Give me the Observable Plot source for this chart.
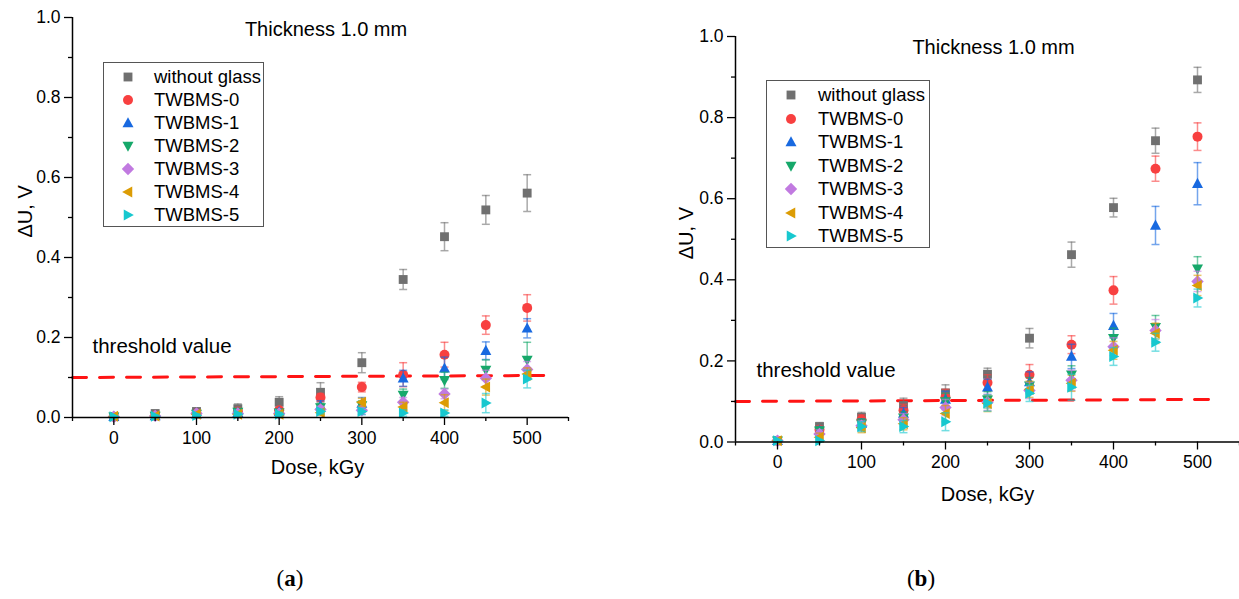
<!DOCTYPE html>
<html>
<head>
<meta charset="utf-8">
<script src="https://cdn.jsdelivr.net/npm/d3@7"></script>
<script src="https://cdn.jsdelivr.net/npm/@observablehq/plot@0.6"></script>
<style>
html,body{margin:0;padding:0;background:#fff;}
#root{position:relative;width:1239px;height:599px;overflow:hidden;font-family:"Liberation Sans",Arial,sans-serif;color:#000;}
.panel{position:absolute;top:0;}
.panel svg{overflow:visible;}
.legend{position:absolute;border:1px solid #555;background:#fff;box-sizing:border-box;}
.legend .row{position:absolute;left:0;height:24px;width:100%;font-size:18.5px;white-space:nowrap;}
.legend .row svg{position:absolute;top:5px;}
.legend .row span{position:absolute;top:1px;line-height:22px;}
.caption{position:absolute;top:566px;font-family:"Liberation Serif","DejaVu Serif",serif;font-size:23px;transform:translateX(-50%);}
.caption b{font-weight:bold;}
</style>
</head>
<body>
<div id="root"></div>
<script>
// ---------- data ----------
const doses = [0, 50, 100, 150, 200, 250, 300, 350, 400, 450, 500];
const seriesNames = ["without glass", "TWBMS-0", "TWBMS-1", "TWBMS-2", "TWBMS-3", "TWBMS-4", "TWBMS-5"];
const seriesColors = ["#707070", "#f84040", "#1869e0", "#16a86a", "#c17ae0", "#dc9c04", "#17c8cf"];

// panel (a)
const aWithoutGlass = [0.002, 0.010, 0.015, 0.022, 0.038, 0.063, 0.137, 0.345, 0.452, 0.519, 0.561];
const aTWBMS0 = [0.002, 0.005, 0.010, 0.015, 0.018, 0.050, 0.076, 0.107, 0.157, 0.231, 0.274];
const aTWBMS1 = [0.002, 0.004, 0.008, 0.012, 0.014, 0.030, 0.035, 0.098, 0.123, 0.167, 0.223];
const aTWBMS2 = [0.002, 0.004, 0.009, 0.014, 0.012, 0.025, 0.030, 0.056, 0.093, 0.119, 0.144];
const aTWBMS3 = [0.002, 0.004, 0.010, 0.010, 0.010, 0.020, 0.018, 0.038, 0.059, 0.098, 0.120];
const aTWBMS4 = [0.003, 0.004, 0.008, 0.008, 0.008, 0.012, 0.038, 0.026, 0.037, 0.076, 0.109];
const aTWBMS5 = [0.002, 0.003, 0.005, 0.008, 0.008, 0.015, 0.015, 0.011, 0.011, 0.036, 0.096];
const aErrWithoutGlass = [0.002, 0.004, 0.008, 0.012, 0.014, 0.024, 0.025, 0.025, 0.035, 0.036, 0.046];
const aErrTWBMS0 = [0.002, 0.003, 0.004, 0.005, 0.006, 0.010, 0.012, 0.030, 0.031, 0.023, 0.033];
const aErrTWBMS1 = [0.002, 0.003, 0.004, 0.005, 0.006, 0.012, 0.015, 0.020, 0.028, 0.022, 0.024];
const aErrTWBMS2 = [0.002, 0.003, 0.004, 0.005, 0.006, 0.010, 0.012, 0.015, 0.020, 0.025, 0.044];
const aErrTWBMS3 = [0.002, 0.003, 0.004, 0.004, 0.005, 0.008, 0.010, 0.012, 0.012, 0.020, 0.020];
const aErrTWBMS4 = [0.002, 0.003, 0.004, 0.004, 0.005, 0.006, 0.010, 0.012, 0.020, 0.020, 0.015];
const aErrTWBMS5 = [0.002, 0.003, 0.004, 0.004, 0.005, 0.006, 0.008, 0.008, 0.008, 0.024, 0.022];

// panel (b)
const bWithoutGlass = [0.003, 0.038, 0.061, 0.090, 0.121, 0.167, 0.256, 0.462, 0.578, 0.743, 0.893];
const bTWBMS0 = [0.003, 0.030, 0.055, 0.078, 0.110, 0.146, 0.166, 0.240, 0.374, 0.674, 0.753];
const bTWBMS1 = [0.003, 0.028, 0.045, 0.070, 0.105, 0.135, 0.148, 0.211, 0.287, 0.534, 0.637];
const bTWBMS2 = [0.003, 0.028, 0.045, 0.060, 0.100, 0.104, 0.139, 0.166, 0.256, 0.283, 0.427];
const bTWBMS3 = [0.003, 0.020, 0.040, 0.055, 0.085, 0.098, 0.127, 0.152, 0.235, 0.275, 0.396];
const bTWBMS4 = [0.003, 0.012, 0.035, 0.045, 0.070, 0.095, 0.130, 0.145, 0.226, 0.268, 0.386];
const bTWBMS5 = [0.003, 0.003, 0.038, 0.038, 0.050, 0.096, 0.120, 0.135, 0.211, 0.246, 0.355];
const bErrWithoutGlass = [0.003, 0.010, 0.012, 0.018, 0.020, 0.015, 0.024, 0.031, 0.023, 0.031, 0.031];
const bErrTWBMS0 = [0.003, 0.010, 0.012, 0.015, 0.020, 0.020, 0.025, 0.022, 0.034, 0.031, 0.034];
const bErrTWBMS1 = [0.003, 0.010, 0.012, 0.015, 0.020, 0.020, 0.025, 0.030, 0.030, 0.047, 0.052];
const bErrTWBMS2 = [0.003, 0.010, 0.012, 0.015, 0.020, 0.020, 0.020, 0.022, 0.025, 0.029, 0.030];
const bErrTWBMS3 = [0.003, 0.010, 0.012, 0.015, 0.020, 0.020, 0.020, 0.025, 0.022, 0.027, 0.025];
const bErrTWBMS4 = [0.003, 0.010, 0.012, 0.015, 0.020, 0.020, 0.020, 0.020, 0.022, 0.025, 0.025];
const bErrTWBMS5 = [0.003, 0.003, 0.012, 0.015, 0.022, 0.020, 0.020, 0.032, 0.022, 0.022, 0.022];

// threshold line and ticks
const thresholdDose = [-50, 520];
const thresholdValue = [0.100, 0.105];
const xMajorTicks = [0, 100, 200, 300, 400, 500];
const xMinorTicks = [-50, 50, 150, 250, 350, 450, 550];
const yMajorTicks = [0, 0.2, 0.4, 0.6, 0.8, 1.0];
const yMinorTicks = [0.1, 0.3, 0.5, 0.7, 0.9];
const titleText = "Thickness 1.0 mm";
const thresholdText = "threshold value";
const xLabel = "Dose, kGy";
const yLabel = "\u0394U, V";

// ---------- symbols ----------
const poly = (pts) => ({
  draw(ctx, size) {
    const s = Math.sqrt(size);
    ctx.moveTo(pts[0][0] * s, pts[0][1] * s);
    for (let i = 1; i < pts.length; i++) ctx.lineTo(pts[i][0] * s, pts[i][1] * s);
    ctx.closePath();
  }
});
const SQUARE = poly([[-0.5, -0.5], [0.5, -0.5], [0.5, 0.5], [-0.5, 0.5]]);
const TRI_UP = poly([[0, -0.66], [0.62, 0.48], [-0.62, 0.48]]);
const TRI_DOWN = poly([[0, 0.66], [0.62, -0.48], [-0.62, -0.48]]);
const TRI_LEFT = poly([[-0.66, 0], [0.48, -0.62], [0.48, 0.62]]);
const TRI_RIGHT = poly([[0.66, 0], [-0.48, -0.62], [-0.48, 0.62]]);
const DIAMOND = poly([[0, -0.7], [0.7, 0], [0, 0.7], [-0.7, 0]]);
const CAP = { draw(ctx, size) { const s = Math.sqrt(size); ctx.moveTo(-s / 2, 0); ctx.lineTo(s / 2, 0); } };
const seriesSymbols = [SQUARE, d3.symbolCircle, TRI_UP, TRI_DOWN, DIAMOND, TRI_LEFT, TRI_RIGHT];

const panelA = {
  values: [aWithoutGlass, aTWBMS0, aTWBMS1, aTWBMS2, aTWBMS3, aTWBMS4, aTWBMS5],
  errors: [aErrWithoutGlass, aErrTWBMS0, aErrTWBMS1, aErrTWBMS2, aErrTWBMS3, aErrTWBMS4, aErrTWBMS5]
};
const panelB = {
  values: [bWithoutGlass, bTWBMS0, bTWBMS1, bTWBMS2, bTWBMS3, bTWBMS4, bTWBMS5],
  errors: [bErrWithoutGlass, bErrTWBMS0, bErrTWBMS1, bErrTWBMS2, bErrTWBMS3, bErrTWBMS4, bErrTWBMS5]
};

function makePanel(panel, layout) {
  const marks = [];
  const thr = thresholdDose.map((d, i) => ({ dose: d, v: thresholdValue[i] }));
  marks.push(Plot.line(thr, { x: "dose", y: "v", stroke: "#ff1414", strokeWidth: 3, strokeDasharray: "14,13" }));
  panel.values.forEach((vals, i) => {
    const rows = doses.map((d, j) => ({ dose: d, v: vals[j], e: panel.errors[i][j] }));
    const c = seriesColors[i];
    marks.push(Plot.ruleX(rows, { x: "dose", y1: (d) => d.v - d.e, y2: (d) => d.v + d.e, stroke: c, strokeOpacity: 0.6, strokeWidth: 1.5 }));
    marks.push(Plot.dot(rows, { x: "dose", y: (d) => d.v + d.e, symbol: CAP, r: 4.5, fill: "none", stroke: c, strokeOpacity: 0.6, strokeWidth: 1.5 }));
    marks.push(Plot.dot(rows, { x: "dose", y: (d) => d.v - d.e, symbol: CAP, r: 4.5, fill: "none", stroke: c, strokeOpacity: 0.6, strokeWidth: 1.5 }));
    marks.push(Plot.dot(rows, { x: "dose", y: "v", symbol: seriesSymbols[i], r: 5, fill: c, stroke: "none" }));
  });
  marks.push(Plot.ruleY([0], { stroke: "#000", strokeWidth: 1.5 }));
  marks.push(Plot.ruleX([-50], { stroke: "#000", strokeWidth: 1.5 }));
  marks.push(Plot.axisX({ ticks: xMajorTicks, tickSize: 8, tickPadding: 6, tickFormat: (d) => String(d), label: null, strokeWidth: 1.3, fontSize: 17.5 }));
  marks.push(Plot.axisX({ ticks: xMinorTicks, tickSize: 4, tickFormat: () => "", label: null, strokeWidth: 1.3 }));
  marks.push(Plot.axisY({ ticks: yMajorTicks, tickSize: 8, tickPadding: 4, tickFormat: d3.format(".1f"), label: null, strokeWidth: 1.3, fontSize: 17.5 }));
  marks.push(Plot.axisY({ ticks: yMinorTicks, tickSize: 4, tickFormat: () => "", label: null, strokeWidth: 1.3 }));
  marks.push(Plot.text([titleText], { frameAnchor: "top", dx: layout.titleDx, dy: layout.titleDy, fontSize: 20, lineAnchor: "middle" }));
  marks.push(Plot.text([thresholdText], { frameAnchor: "bottom-left", textAnchor: "start", dx: layout.thrDx, dy: layout.thrDy, fontSize: 20.5, lineAnchor: "middle" }));
  marks.push(Plot.text([xLabel], { frameAnchor: "bottom", dx: layout.xlDx, dy: layout.xlDy, fontSize: 20, lineAnchor: "middle" }));
  marks.push(Plot.text([yLabel], { frameAnchor: "left", rotate: -90, dx: layout.ylDx, dy: layout.ylDy, fontSize: 20, lineAnchor: "middle" }));

  const chart = Plot.plot({
    width: layout.width, height: layout.height,
    marginLeft: layout.ml, marginRight: layout.mr, marginTop: layout.mt, marginBottom: layout.mb,
    x: { domain: [-50, 550] },
    y: { domain: [0, 1] },
    style: { fontFamily: "'Liberation Sans', Arial, sans-serif", fontSize: "17.5px", color: "#000", background: "transparent", overflow: "visible" },
    marks
  });
  const wrap = document.createElement("div");
  wrap.className = "panel";
  wrap.style.left = layout.left + "px";
  wrap.appendChild(chart);
  document.getElementById("root").appendChild(wrap);
}

function makeLegend(box) {
  const lg = document.createElement("div");
  lg.className = "legend";
  Object.assign(lg.style, { left: box.x + "px", top: box.y + "px", width: box.w + "px", height: box.h + "px" });
  seriesNames.forEach((name, i) => {
    const row = document.createElement("div");
    row.className = "row";
    row.style.top = (box.first + box.step * i - 12) + "px";
    const path = d3.symbol(seriesSymbols[i], 25 * Math.PI)();
    row.innerHTML = `<svg width="16" height="14" viewBox="-8 -7 16 14" style="left:${box.mx - 8}px"><path d="${path}" fill="${seriesColors[i]}"/></svg><span style="left:${box.tx}px">${name}</span>`;
    lg.appendChild(row);
  });
  document.getElementById("root").appendChild(lg);
}

makePanel(panelA, {
  left: 0, width: 620, height: 520, ml: 72, mr: 52, mt: 17, mb: 103,
  titleDx: 5.5, titleDy: 12, thrDx: 20, thrDy: -71.5, xlDx: -3, xlDy: 50, ylDx: -47, ylDy: 20
});
makePanel(panelB, {
  left: 660, width: 579, height: 520, ml: 75, mr: 0, mt: 36, mb: 78.5,
  titleDx: 6, titleDy: 11, thrDx: 21, thrDy: -72, xlDx: 0, xlDy: 53, ylDx: -49, ylDy: 20
});
makeLegend({ x: 103, y: 62, w: 161, h: 165, first: 14, step: 23, mx: 24, tx: 50 });
makeLegend({ x: 766, y: 80, w: 164, h: 168, first: 14, step: 23.5, mx: 24, tx: 51 });

const capA = document.createElement("div");
capA.className = "caption"; capA.style.left = "290px"; capA.innerHTML = "(<b>a</b>)";
const capB = document.createElement("div");
capB.className = "caption"; capB.style.left = "921px"; capB.innerHTML = "(<b>b</b>)";
document.getElementById("root").appendChild(capA);
document.getElementById("root").appendChild(capB);
</script>
</body>
</html>
